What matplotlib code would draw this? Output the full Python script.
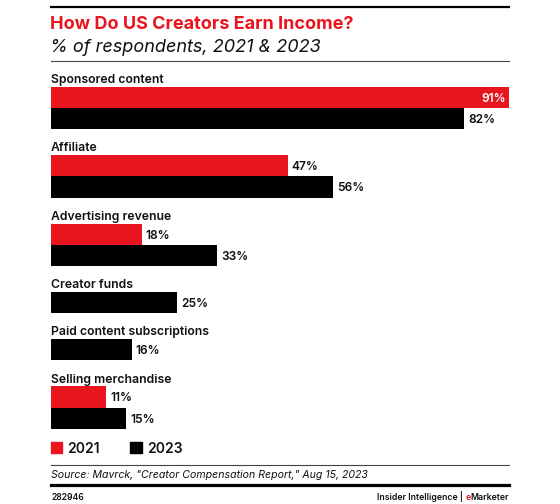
import matplotlib
matplotlib.use("Agg")
import matplotlib.pyplot as plt
from matplotlib.lines import Line2D
from matplotlib.patches import Rectangle

categories = ["Sponsored content", "Affiliate", "Advertising revenue",
              "Creator funds", "Paid content subscriptions", "Selling merchandise"]
v2021 = [91, 47, 18, None, None, 11]
v2023 = [82, 56, 33, 25, 16, 15]
series_names = ["2021", "2023"]
colors = ["#E8141E", "#000000"]

W, H = 560, 504
fig = plt.figure(figsize=(W / 100, H / 100), dpi=100)
FONT = "Inter"
plt.rcParams["font.family"] = [FONT, "DejaVu Sans"]

left_px, px_per_pct = 51, 458 / 91
ax = fig.add_axes([0, 0, 1, 1])
ax.set_xlim(-left_px / px_per_pct, (W - left_px) / px_per_pct)
ax.set_ylim(H, 0)
ax.axis("off")

def fx(px):
    return px / W

def fy(py):
    return 1 - py / H

TXT = "#111111"

# header
fig.add_artist(Line2D([fx(51), fx(509)], [fy(7)] * 2, color="black", lw=1.6))
fig.text(fx(50), fy(29.3), "How Do US Creators Earn Income?", color=colors[0],
         fontsize=13.0, fontweight="bold", va="baseline", ha="left")
fig.text(fx(50), fy(51.7), "% of respondents, 2021 & 2023", color=TXT,
         fontsize=13.0, fontstyle="italic", fontweight="normal", va="baseline", ha="left")
fig.add_artist(Line2D([fx(51), fx(509)], [fy(60.7)] * 2, color="#444444", lw=0.8))

bar_h = 21.2
label_to_bar = 3.8
bar_to_label = 22.2
lab_fs = 8.8
val_fs = 8.6
val_cap = val_fs * 100 / 72 * 0.727
y = 83.0
for cat, a, b in zip(categories, v2021, v2023):
    ax.text(0, y, cat, fontsize=lab_fs, fontweight="semibold", va="baseline",
            ha="left", color=TXT)
    yb = y + label_to_bar
    for val, col in ((a, colors[0]), (b, colors[1])):
        if val is None:
            continue
        yc = yb + bar_h / 2
        ax.barh(yc, val, height=bar_h, left=0, color=col, align="center")
        if val >= 90:
            ax.text(val - 0.6, yc + val_cap / 2, f"{val}%", color="white",
                    fontsize=val_fs, fontweight="semibold", va="baseline", ha="right")
        else:
            ax.text(val + 0.85, yc + val_cap / 2, f"{val}%", color=TXT,
                    fontsize=val_fs, fontweight="semibold", va="baseline", ha="left")
        yb += bar_h
    y = yb + bar_to_label

# legend
for i, (name, col) in enumerate(zip(series_names, colors)):
    x0 = 51 + i * 79.3
    fig.add_artist(Rectangle((fx(x0), fy(453)), 11.3 / W, 11 / H, color=col,
                             transform=fig.transFigure))
    fig.text(fx(x0 + 16.5), fy(453), name, fontsize=10.0, fontweight="semibold",
             va="baseline", ha="left", color=TXT)

# footer
fig.add_artist(Line2D([fx(51), fx(509)], [fy(465)] * 2, color="#444444", lw=0.8))
fig.text(fx(51), fy(478.3), "Source: Mavrck, \"Creator Compensation Report,\" Aug 15, 2023",
         fontsize=7.6, fontstyle="italic", va="baseline", ha="left", color=TXT)
fig.add_artist(Line2D([fx(51), fx(509)], [fy(485)] * 2, color="black", lw=2.3))
fig.text(fx(51), fy(499.5), "282946", fontsize=6.2, fontweight="semibold",
         va="baseline", ha="left", color=TXT)

fig.canvas.draw()
r = fig.canvas.get_renderer()
t2 = fig.text(fx(509), fy(499.5), "Marketer", fontsize=6.3, fontweight="semibold",
              va="baseline", ha="right", color=TXT)
bb = t2.get_window_extent(r)
t1 = fig.text(bb.x0 / W, fy(499.5), "e", fontsize=6.3, fontweight="semibold",
              va="baseline", ha="right", color=colors[0])
bb1 = t1.get_window_extent(r)
fig.text((bb1.x0 - 2.5) / W, fy(499.5), "Insider Intelligence |", fontsize=6.3,
         fontweight="semibold", va="baseline", ha="right", color=TXT)

fig.savefig("out.png", dpi=100)
